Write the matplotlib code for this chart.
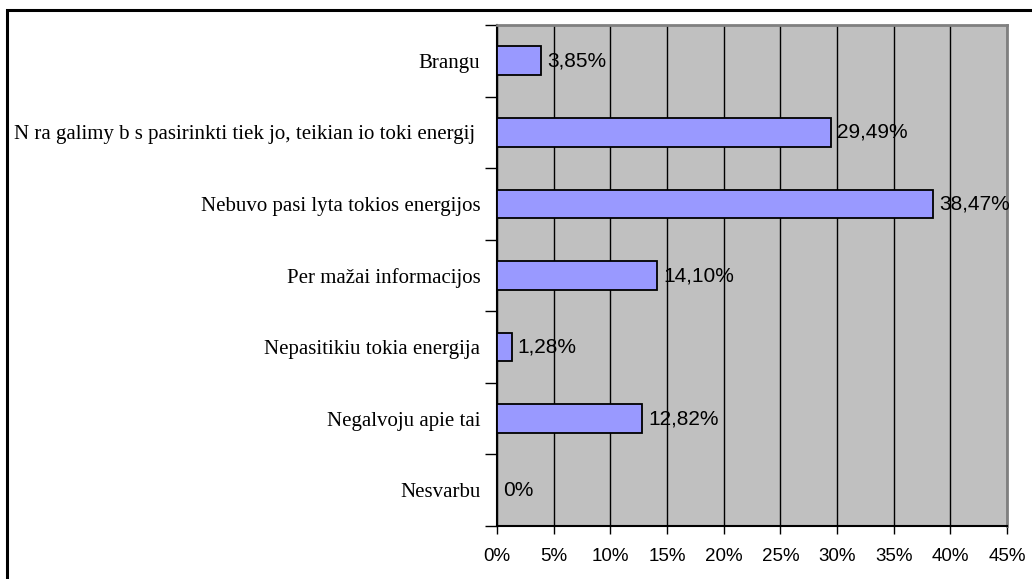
import matplotlib.pyplot as plt
from matplotlib.patches import Rectangle
from matplotlib.ticker import FixedLocator

categories = [
    "Brangu",
    "N ra galimy b s pasirinkti tiek jo, teikian io toki energij ",
    "Nebuvo pasi lyta tokios energijos",
    "Per mažai informacijos",
    "Nepasitikiu tokia energija",
    "Negalvoju apie tai",
    "Nesvarbu",
]
values = [3.85, 29.49, 38.47, 14.10, 1.28, 12.82, 0.0]
value_labels = ["3,85%", "29,49%", "38,47%", "14,10%", "1,28%", "12,82%", "0%"]
x_ticks = [0, 5, 10, 15, 20, 25, 30, 35, 40, 45]

fig = plt.figure(figsize=(10.32, 5.79), dpi=100)
ax = fig.add_axes([497 / 1032, 1 - 526 / 579, 510 / 1032, 501 / 579])

# outer frame, only its left and top edges fall inside the picture
frame_top = 1 - 10 / 579
fig.add_artist(Rectangle((7 / 1032, -0.2), 1.2, frame_top + 0.2,
                         transform=fig.transFigure, fill=False,
                         edgecolor="black", linewidth=2.2))

ax.set_facecolor("#C0C0C0")
ypos = list(range(len(categories)))
ax.barh(ypos, values, height=0.4, color="#9999FF", edgecolor="black",
        linewidth=1.3, zorder=3)

for y, v, lab in zip(ypos, values, value_labels):
    ax.annotate(lab, (v, y), xytext=(4.5, 0), textcoords="offset points",
                ha="left", va="center", fontsize=15,
                family="Liberation Sans", zorder=4)

ax.set_xlim(0, 45)
ax.set_ylim(len(categories) - 0.5, -0.5)
ax.xaxis.set_major_locator(FixedLocator(x_ticks))
ax.set_xticklabels([f"{t}%" for t in x_ticks], fontsize=13.5,
                   family="Liberation Sans")
ax.grid(axis="x", color="black", linewidth=1, zorder=1)

# category labels at centers, ticks at boundaries
ax.set_yticks(ypos)
ax.set_yticklabels(categories, fontsize=15, family="Liberation Serif")
ax.yaxis.set_minor_locator(FixedLocator([i - 0.5 for i in range(len(categories) + 1)]))
ax.tick_params(axis="y", which="major", length=0, pad=12)
ax.tick_params(axis="y", which="minor", length=9, width=1, direction="out")
ax.tick_params(axis="x", length=6, width=1, direction="out", pad=10)

ax.spines["left"].set_color("black")
ax.spines["left"].set_linewidth(1.5)
ax.spines["bottom"].set_color("black")
ax.spines["bottom"].set_linewidth(1.5)
ax.spines["top"].set_color("#808080")
ax.spines["top"].set_linewidth(2)
ax.spines["right"].set_color("#808080")
ax.spines["right"].set_linewidth(2)

fig.savefig("out.png", dpi=100)
